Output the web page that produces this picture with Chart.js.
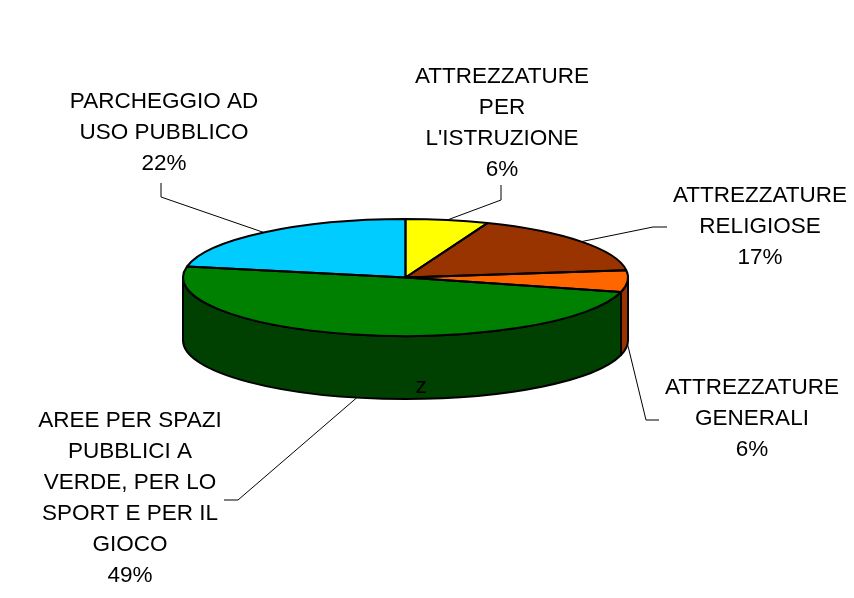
<!DOCTYPE html>
<html>
<head>
<meta charset="utf-8">
<style>
  html, body { margin: 0; padding: 0; background: #fff; }
  canvas { display: block; }
</style>
</head>
<body>
<canvas id="pie" width="854" height="598"></canvas>
<script src="https://cdn.jsdelivr.net/npm/chart.js@4/dist/chart.umd.min.js"></script>
<script>
const categories = [
  ['ATTREZZATURE', 'PER', "L'ISTRUZIONE"],
  ['ATTREZZATURE', 'RELIGIOSE'],
  ['ATTREZZATURE', 'GENERALI'],
  ['AREE PER SPAZI', 'PUBBLICI A', 'VERDE, PER LO', 'SPORT E PER IL', 'GIOCO'],
  ['PARCHEGGIO AD', 'USO PUBBLICO']
];
const values = [6, 17, 6, 49, 22];

const topColors = ['#ffff00', '#993300', '#ff6600', '#008000', '#00ccff'];
const wallColors = ['#808000', '#4d1a00', '#993300', '#004000', '#006680'];

// label placement: centre x, first line centre y
const labelX = [502, 760, 752, 130, 164];
const labelY = [77, 196, 388, 421, 102];
// leader lines: elbows after the point on the rim
const leaderElbows = [
  [[501, 200], [501, 185]],
  [[653, 227], [667, 227]],
  [[646, 420], [659, 420]],
  [[238, 500], [224, 500]],
  [[161, 197], [161, 183]]
];

const RY = 58.5;    // height of the flattened pie
const DEPTH = 63;   // height of the side wall
const LINE_H = 31;
const FONT = '22.5px "Liberation Sans", Arial, sans-serif';

const pie3d = {
  id: 'pie3d',
  beforeDatasetsDraw(chart) {
    const ctx = chart.ctx;
    const arcs = chart.getDatasetMeta(0).data;
    const cx = arcs[0].x, cy = arcs[0].y, r = arcs[0].outerRadius;

    // side walls, only the front half can be seen
    ctx.save();
    ctx.lineWidth = 2;
    ctx.lineJoin = 'round';
    ctx.strokeStyle = '#000';
    arcs.forEach((arc, i) => {
      const a = Math.max(arc.startAngle, 0);
      const b = Math.min(arc.endAngle, Math.PI);
      if (b <= a) return;
      ctx.beginPath();
      ctx.ellipse(cx, cy, r, RY, 0, a, b);
      ctx.ellipse(cx, cy + DEPTH, r, RY, 0, b, a, true);
      ctx.closePath();
      ctx.fillStyle = wallColors[i];
      ctx.fill();
      ctx.stroke();
    });
    ctx.restore();

    // flatten the slices the chart is about to draw
    ctx.save();
    ctx.translate(cx, cy);
    ctx.scale(1, RY / r);
    ctx.translate(-cx, -cy);
  },
  afterDatasetsDraw(chart) {
    const ctx = chart.ctx;
    ctx.restore();

    const arcs = chart.getDatasetMeta(0).data;
    ctx.save();
    ctx.lineWidth = 2;
    ctx.lineJoin = 'round';
    ctx.strokeStyle = '#000';
    arcs.forEach(arc => {
      ctx.beginPath();
      ctx.moveTo(arc.x, arc.y);
      ctx.ellipse(arc.x, arc.y, arc.outerRadius, RY, 0, arc.startAngle, arc.endAngle);
      ctx.closePath();
      ctx.stroke();
    });
    ctx.restore();
  },
  afterDraw(chart) {
    const ctx = chart.ctx;
    const arcs = chart.getDatasetMeta(0).data;
    ctx.save();

    // leader lines start on the rim at the middle of the slice
    ctx.strokeStyle = '#000';
    ctx.lineWidth = 1;
    arcs.forEach((arc, i) => {
      const mid = (arc.startAngle + arc.endAngle) / 2;
      const front = Math.sin(mid) > 0;
      ctx.beginPath();
      ctx.moveTo(arc.x + arc.outerRadius * Math.cos(mid),
        arc.y + RY * Math.sin(mid) + (front ? DEPTH : 0));
      leaderElbows[i].forEach(p => ctx.lineTo(p[0], p[1]));
      ctx.stroke();
    });

    ctx.fillStyle = '#000';
    ctx.font = FONT;
    ctx.textAlign = 'center';
    ctx.textBaseline = 'middle';
    categories.forEach((lines, i) => {
      lines.concat(values[i] + '%').forEach((line, n) => {
        ctx.fillText(line, labelX[i], labelY[i] + n * LINE_H);
      });
    });
    ctx.fillText('z', 421, 387);
    ctx.restore();
  }
};

new Chart(document.getElementById('pie').getContext('2d'), {
  type: 'pie',
  data: {
    labels: categories.map(c => c.join(' ')),
    datasets: [{
      data: values,
      backgroundColor: topColors,
      borderWidth: 0
    }]
  },
  options: {
    responsive: false,
    animation: false,
    layout: { padding: { left: 183, right: 226, top: 55, bottom: 98 } },
    plugins: {
      legend: { display: false },
      tooltip: { enabled: false }
    }
  },
  plugins: [pie3d]
});
</script>
</body>
</html>
